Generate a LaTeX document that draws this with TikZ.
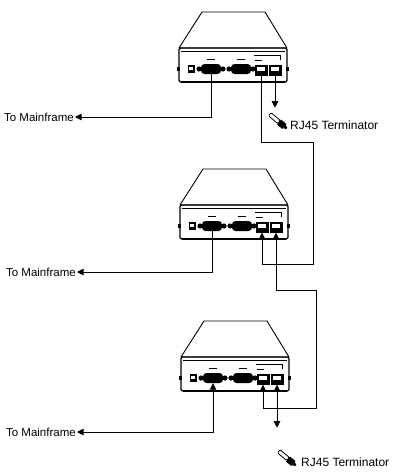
\documentclass[tikz,border=0pt]{standalone}
\usepackage{fontspec}
\setmainfont{Liberation Sans}
\usetikzlibrary{
  arrows.meta,
  positioning
}

\tikzset{
  modem/.pic={
    % lid and front panel
    \draw[case] (-31,-53) -- (32,-53) -- (54,-17) -- (-54,-17) -- cycle;
    \draw[panel] (-54,-17) rectangle (54,17);
    \draw[thin] (-52,-14) -- (52,-14);
    \draw[line width=1.6pt] (-52,17) -- (52,17);
    \fill (-56,2) rectangle (-53,6);
    \fill (53,2) rectangle (56,6);
    % sockets
    \node[dcjack] (-dc) at (-42,4) {};
    \node[db9] (-pa) at (-22,4) {};
    \node[db9] (-pb) at (8,4) {};
    \fill (-34,4) circle (2.6pt) (-10,4) circle (2.6pt);
    \fill (-4,4) circle (2.6pt) (20,4) circle (2.6pt);
    \node[rj45] (-r1) at (28,5) {};
    \node[rj45] (-r2) at (42,5) {};
    % printing above sockets
    \draw[line width=1pt] (-26,-6) -- (-18,-6) (4,-6) -- (12,-6) (22,-5) -- (29,-5);
    \draw[thin] (21,-10) -- (47,-10) -- (47,-5);
  },
  plug/.pic={
    \begin{scope}[rotate=-40]
      \draw[line width=0.8pt, fill=white, rounded corners=1pt] (-12pt,-2pt) rectangle (0pt,2pt);
      \fill (0pt,-3.2pt) rectangle (7pt,3.2pt);
      \fill (7pt,-2pt) -- (10pt,-1pt) -- (10pt,1pt) -- (7pt,2pt) -- cycle;
    \end{scope}
  }
}

\begin{document}
\begin{tikzpicture}[
      x=1pt, y=-1pt,
      case/.style={line width=0.9pt, line join=round},
      panel/.style={line width=1.1pt, rounded corners=1.5pt},
      db9/.style={
         rectangle,
         fill=black,
         rounded corners=3.5pt,
         minimum width=20pt,
         minimum height=10pt,
         inner sep=0pt
      },
      rj45/.style={
         rectangle,
         fill=black,
         minimum width=13pt,
         minimum height=11pt,
         inner sep=0pt,
         path picture={\fill[white] ([shift={(2.5pt,-2.5pt)}]path picture bounding box.north west) rectangle ++(8pt,-4pt);}
      },
      dcjack/.style={
         rectangle,
         fill=black,
         minimum width=7pt,
         minimum height=8pt,
         inner sep=0pt,
         path picture={\fill[white] ([shift={(1.5pt,-1.8pt)}]path picture bounding box.north west) rectangle ++(4pt,-3pt);}
      },
      cable/.style={line width=0.9pt},
      >={Triangle[width=6.5pt,length=6.5pt]},
      mainframe/.style={font=\fontsize{11.5}{13}\selectfont, inner sep=1pt, anchor=east},
      termlabel/.style={font=\fontsize{12}{14}\selectfont, inner sep=0pt, anchor=west},
      vh path/.style={to path={|- (\tikztotarget)}},
      hv path/.style={to path={-| (\tikztotarget)}}
    ]
    \useasboundingbox (0,0) rectangle (409,474);

    % the three units
    \pic (top) at (233,65) {modem};
    \pic (mid) at (234,222) {modem};
    \pic (bot) at (235,374) {modem};

    % host side
    \node[mainframe] (mf1) at (75,117) {To Mainframe};
    \node[mainframe] (mf2) at (77,272) {To Mainframe};
    \node[mainframe] (mf3) at (77,432) {To Mainframe};
    \draw[cable,->] (top-pa) to[vh path] (mf1);
    \draw[cable,->] (mid-pa) to[vh path] (mf2);
    \draw[cable,<->] (bot-pa) to[vh path] (mf3);

    % daisy chain
    \coordinate (k1) at (313,142);
    \coordinate (k2) at (313,264);
    \coordinate (k3) at (316,290);
    \coordinate (k4) at (316,408);
    \draw[cable,->] (top-r1) to[vh path] (k1) -- (k2) to[hv path] (mid-r1);
    \draw[cable,<->] (mid-r2) to[vh path] (k3) -- (k4) to[hv path] (bot-r1);

    % terminators
    \coordinate[below=32pt of top-r2] (tt1);
    \coordinate[below=43pt of bot-r2] (tt2);
    \draw[cable,->] (top-r2) -- (tt1);
    \draw[cable,<->] (bot-r2) -- (tt2);
    \pic at (279,122) {plug};
    \pic at (288,459) {plug};
    \node[termlabel] (rj1) at (290,125) {RJ45 Terminator};
    \node[termlabel] (rj2) at (301,462) {RJ45 Terminator};
\end{tikzpicture}
\end{document}
